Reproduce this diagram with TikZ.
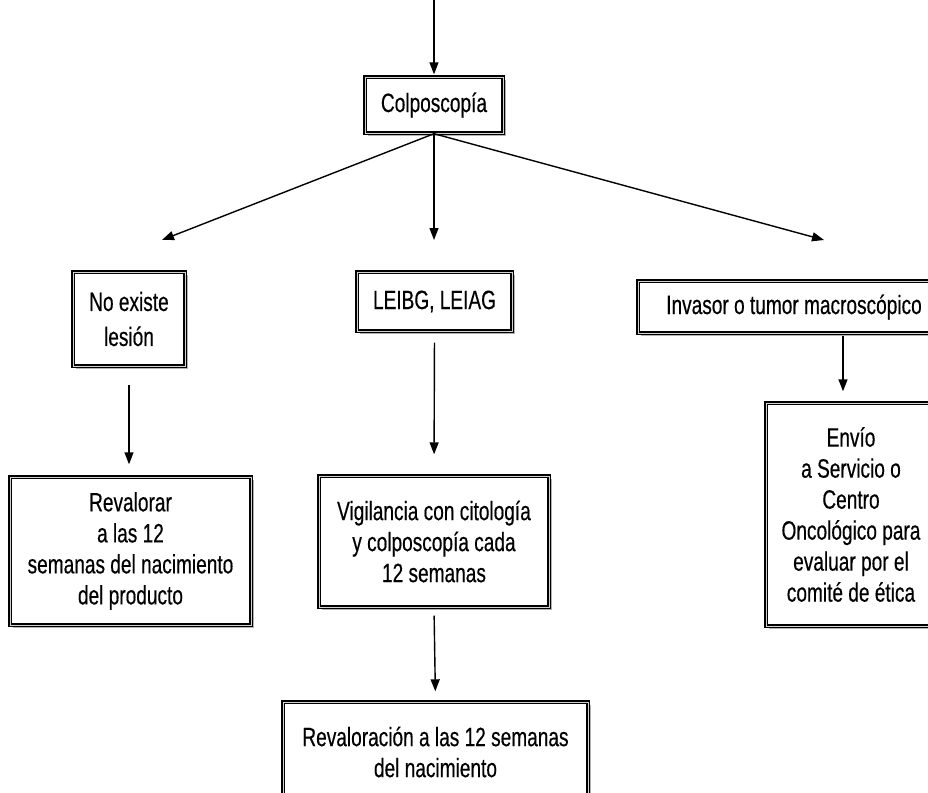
\documentclass[tikz,border=0pt]{standalone}
\usepackage{fontspec}
\setmainfont[FakeStretch=0.72]{Liberation Sans}
\newfontfamily\boxfont[FakeStretch=0.72,FakeBold=0.4]{Liberation Sans}
\usetikzlibrary{arrows.meta,shadows}
\begin{document}
\begin{tikzpicture}[x=1pt,y=1pt,
  box/.style={draw=black, line width=1.4pt, double=gray!35, double distance=0.9pt,
    fill=white, drop shadow={shadow xshift=2.5pt, shadow yshift=-2.5pt, fill=gray!60, opacity=1},
    align=center, font=\boxfont\fontsize{26.5}{31}\selectfont, inner sep=0pt},
  arr/.style={line width=1.4pt, -{Triangle[length=12pt,width=9pt]}}]
\clip (0,0) rectangle (928,-792);
\useasboundingbox (0,0) rectangle (928,-792);

\node[box, minimum width=138, minimum height=56] (colp) at (434,-105) {Colposcopía};
\node[box, minimum width=112, minimum height=94, font=\boxfont\fontsize{26.5}{35}\selectfont] (none) at (129,-319) {No existe\\lesión};
\node[box, minimum width=155, minimum height=59] (leibg) at (434.5,-301.5) {LEIBG, LEIAG};
\node[box, minimum width=312, minimum height=52] (inv) at (794,-307) {Invasor o tumor macroscópico};
\node[box, minimum width=170, minimum height=223] (envio) at (851,-514.5) {Envío\\a Servicio o\\Centro\\Oncológico para\\evaluar por el\\comité de ética};
\node[box, minimum width=241, minimum height=148] (reval) at (130.5,-551) {Revalorar\\a las 12\\semanas del nacimiento\\del producto};
\node[box, minimum width=230, minimum height=131] (vig) at (434,-541.5) {Vigilancia con citología\\y colposcopía cada\\12 semanas};
\node[box, minimum width=305, minimum height=100] (revn) at (435.5,-752) {Revaloración a las 12 semanas\\del nacimiento};

\coordinate (top) at (434,0);
\coordinate (tL) at (162,-240);
\coordinate (tM) at (434,-240);
\coordinate (tR) at (824,-240);

\draw[arr, shorten >=2pt] (top) -- (colp.north);
\draw[arr] (colp.south) -- (tL);
\draw[arr] (colp.south) -- (tM);
\draw[arr] (colp.south) -- (tR);
\draw[arr, shorten <=18pt, shorten >=12pt] (none.south) -- (none.south |- reval.north);
\draw[arr, shorten <=11pt, shorten >=21pt] (leibg.south) -- (vig.north);
\draw[arr, shorten <=2pt, shorten >=11pt] ([xshift=49pt]inv.south) -- ([xshift=-8pt]envio.north);
\draw[arr, shorten <=8pt, shorten >=10pt] (vig.south) -- (revn.north);
\end{tikzpicture}
\end{document}
